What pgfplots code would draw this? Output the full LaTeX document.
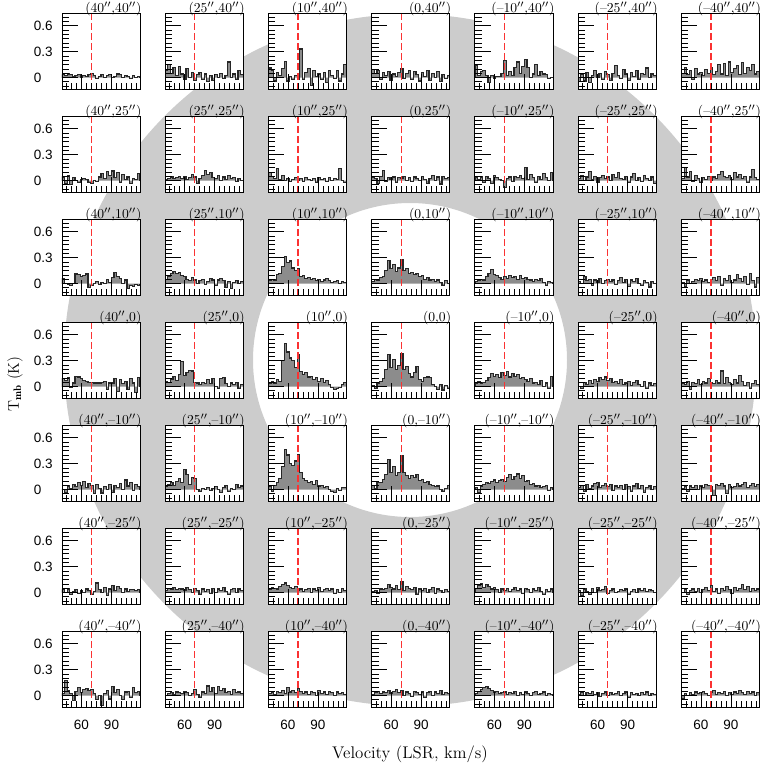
\documentclass[border=0pt]{standalone}
\usepackage{fontspec}
\usepackage{pgfplots}
\pgfplotsset{compat=1.18}
\newfontfamily\tickfont{Liberation Sans}
\definecolor{ring}{RGB}{204,204,204}
\definecolor{histfill}{RGB}{140,140,140}
\definecolor{vred}{RGB}{250,50,50}

\newcommand{\as}{$''$}
\pgfplotsset{
  panel/.style={
    scale only axis, width=19.5mm, height=19mm, anchor=north west,
    xmin=40.5, xmax=118.5, ymin=-0.14, ymax=0.74,
    xtick={60,90}, ytick={0,0.3,0.6},
    minor xtick={45,50,...,115},
    minor ytick={-0.1,-0.05,0.05,0.1,0.15,0.2,0.25,0.35,0.4,0.45,0.5,0.55,0.65,0.7},
    tick align=inside, tick pos=left,
    major tick length=3.9mm, minor tick length=1.7mm,
    tick style={black, line width=0.5pt},
    axis line style={black, line width=0.7pt},
    axis background/.style={fill=white},
    axis on top,
    xticklabels={}, yticklabels={},
    tick label style={font=\tickfont\fontsize{9.6}{11}\selectfont},
    yticklabel style={anchor=west, xshift=-7.1mm, inner sep=0pt},
    xticklabel style={anchor=north, yshift=-3mm, inner sep=0pt},
    every axis title/.style={at={(1,1)}, anchor=base east, yshift=1pt, xshift=0.4mm,
      inner sep=0pt, font=\fontsize{9.7}{11}\selectfont},
  },
  labx/.style={xticklabels={60,90}},
  laby/.style={yticklabels={0,0.3,0.6}},
  histo/.style={const plot, black!85, line width=0.8pt, fill=histfill},
  vline/.style={vred, line width=0.9pt, dash pattern=on 1.6mm off 0.9mm},
}

% #1 column, #2 row, #3 offset label, #4 extra options, #5 channel values (K)
\newcommand{\spec}[5]{%
  \begin{axis}[panel, at={({(62+103.25*#1)*0.25mm},{-(13.6+103*#2)*0.25mm})}, title={#3}, #4]
    \addplot[histo] table[row sep=\\, header=false, x expr={37.9+2.6*\coordindex}, y index=0] {0\\#5\\0\\};
    \addplot[vline] coordinates {(70,-0.14) (70,0.74)};
  \end{axis}}

\begin{document}
\begin{tikzpicture}
\path[use as bounding box] (0,0) rectangle (190.75mm,-191.25mm);

% background ring and axis titles
\begin{axis}[hide axis, scale only axis, width=190.75mm, height=191.25mm,
  at={(0,0)}, anchor=north west, xmin=0, xmax=763, ymin=0, ymax=765, clip=false]
  \fill[ring, even odd rule] (axis cs:410,405) circle[radius=346] (axis cs:410,405) circle[radius=157];
  \node[rotate=90, font=\fontsize{11}{13}\selectfont] at (axis cs:15,381) {T$_{\mathbf{mb}}$ (K)};
  \node[font=\fontsize{12}{14}\selectfont] at (axis cs:410,11) {Velocity (LSR, km/s)};
\end{axis}

% row 40''
\spec{0}{0}{(40\as,40\as)}{laby}{0.03\\0.02\\0.04\\0.03\\0.01\\0.02\\0.03\\0.00\\0.02\\0.01\\0.03\\0.05\\0.02\\-0.01\\0.01\\0.03\\0.00\\0.02\\0.03\\0.00\\0.01\\0.04\\0.03\\0.00\\0.02\\0.01\\-0.01\\0.02\\0.00\\0.01}
\spec{1}{0}{(25\as,40\as)}{}{0.08\\0.15\\0.05\\0.12\\0.02\\0.13\\0.04\\-0.02\\0.10\\0.00\\0.06\\-0.03\\0.03\\0.06\\-0.02\\0.04\\-0.05\\0.02\\-0.03\\0.03\\0.00\\0.05\\-0.01\\0.02\\0.18\\0.00\\0.04\\-0.02\\0.08\\0.03}
\spec{2}{0}{(10\as,40\as)}{}{0.11\\0.08\\-0.04\\0.06\\0.02\\0.10\\0.19\\-0.04\\0.01\\-0.02\\0.02\\-0.02\\0.33\\-0.02\\0.06\\0.10\\-0.09\\0.08\\0.01\\0.04\\-0.02\\0.06\\-0.06\\0.08\\0.02\\-0.01\\0.08\\-0.04\\0.04\\0.15}
\spec{3}{0}{(0,40\as)}{}{0.09\\0.05\\0.08\\-0.02\\0.06\\0.02\\0.07\\-0.03\\0.04\\0.01\\0.06\\0.10\\-0.01\\0.05\\0.08\\-0.02\\0.07\\0.03\\-0.04\\0.06\\0.01\\0.08\\-0.03\\0.05\\0.00\\0.07\\-0.05\\0.03\\-0.01\\0.02}
\spec{4}{0}{(–10\as,40\as)}{}{0.14\\0.02\\0.07\\0.08\\0.02\\-0.06\\0.02\\-0.01\\0.01\\0.01\\0.05\\0.20\\0.02\\0.07\\0.02\\0.12\\0.18\\0.05\\0.13\\0.21\\0.12\\0.00\\0.04\\0.15\\0.02\\0.07\\0.04\\0.03\\-0.01\\0.00}
\spec{5}{0}{(–25\as,40\as)}{}{-0.05\\0.03\\-0.04\\0.06\\-0.06\\0.02\\0.08\\0.00\\0.05\\-0.02\\0.07\\0.03\\-0.03\\0.05\\0.14\\0.02\\-0.01\\0.09\\0.04\\-0.03\\0.06\\0.01\\0.08\\-0.02\\0.05\\0.03\\0.11\\0.00\\0.04\\0.02}
\spec{6}{0}{(–40\as,40\as)}{}{0.05\\0.12\\0.03\\0.08\\-0.02\\0.10\\0.04\\0.06\\0.02\\0.09\\0.05\\0.12\\0.03\\0.07\\0.15\\0.04\\0.16\\0.02\\0.18\\0.06\\0.10\\0.14\\0.03\\0.17\\0.05\\0.12\\0.08\\0.15\\0.04\\0.07}

% row 25''
\spec{0}{1}{(40\as,25\as)}{laby}{0.04\\-0.03\\0.06\\-0.05\\0.03\\0.00\\-0.02\\0.01\\0.02\\0.01\\-0.02\\-0.03\\0.00\\-0.01\\0.04\\0.08\\0.02\\0.10\\0.06\\0.11\\0.03\\0.09\\-0.02\\0.07\\0.01\\0.04\\-0.03\\0.02\\0.01\\0.08}
\spec{1}{1}{(25\as,25\as)}{}{0.01\\0.02\\0.04\\0.02\\0.03\\0.05\\0.02\\0.04\\0.01\\0.03\\0.07\\0.04\\-0.03\\0.02\\0.06\\0.12\\0.07\\0.09\\0.03\\0.02\\0.06\\0.00\\0.04\\0.01\\0.06\\0.02\\0.03\\-0.01\\0.02\\0.00}
\spec{2}{1}{(10\as,25\as)}{}{0.09\\0.05\\0.02\\0.14\\0.01\\0.06\\0.00\\0.02\\-0.01\\0.01\\0.03\\0.00\\0.02\\-0.01\\0.03\\0.01\\0.00\\0.02\\-0.02\\0.03\\0.01\\0.02\\-0.01\\0.03\\0.00\\0.02\\0.01\\0.14\\0.00\\-0.02}
\spec{3}{1}{(0,25\as)}{}{0.04\\0.02\\-0.03\\0.05\\0.12\\-0.01\\0.03\\0.01\\0.04\\-0.02\\0.03\\0.02\\0.05\\0.00\\0.03\\-0.01\\0.04\\0.02\\0.00\\0.05\\0.01\\-0.03\\0.02\\0.06\\0.00\\0.04\\-0.04\\0.05\\0.02\\0.03}
\spec{4}{1}{(–10\as,25\as)}{}{0.03\\0.01\\0.04\\-0.02\\0.05\\0.02\\-0.03\\0.06\\0.03\\0.01\\0.00\\-0.08\\0.02\\0.04\\-0.01\\0.05\\0.03\\0.06\\0.02\\0.15\\0.01\\0.07\\0.03\\-0.02\\0.05\\0.01\\0.08\\0.03\\0.00\\0.09}
\spec{5}{1}{(–25\as,25\as)}{}{0.02\\0.06\\0.00\\0.04\\0.10\\0.01\\0.05\\-0.02\\0.03\\0.06\\0.02\\0.04\\0.00\\0.07\\0.03\\0.09\\0.02\\0.01\\0.05\\-0.02\\0.04\\0.08\\0.00\\0.03\\-0.01\\0.06\\0.02\\0.00\\0.04\\-0.03}
\spec{6}{1}{(–40\as,25\as)}{}{0.02\\0.15\\0.04\\0.10\\-0.01\\0.06\\0.02\\-0.02\\0.03\\0.01\\0.05\\0.00\\0.04\\0.02\\0.07\\0.10\\0.05\\0.03\\0.06\\0.01\\0.09\\0.04\\0.07\\0.02\\0.05\\-0.02\\0.04\\0.13\\0.03\\0.01}

% row 10''
\spec{0}{2}{(40\as,10\as)}{laby}{0.06\\0.00\\-0.01\\-0.02\\0.00\\0.11\\0.10\\0.08\\0.09\\0.11\\-0.05\\-0.02\\0.00\\0.02\\-0.01\\0.01\\0.00\\0.05\\0.01\\0.07\\0.13\\0.08\\0.06\\0.00\\0.04\\-0.06\\-0.02\\-0.03\\-0.01\\-0.02}
\spec{1}{2}{(25\as,10\as)}{}{0.05\\0.08\\0.12\\0.14\\0.12\\0.13\\0.09\\0.08\\0.05\\0.03\\0.07\\0.04\\0.00\\0.03\\0.05\\-0.01\\0.02\\0.06\\0.04\\-0.02\\0.04\\0.06\\0.03\\-0.05\\0.02\\-0.06\\0.01\\0.03\\0.00\\0.02}
\spec{2}{2}{(10\as,10\as)}{}{0.03\\0.05\\0.04\\0.10\\0.12\\0.20\\0.31\\0.24\\0.26\\0.18\\0.15\\0.17\\0.08\\0.09\\0.06\\0.07\\0.05\\0.06\\0.03\\0.05\\0.02\\0.04\\0.06\\0.03\\0.01\\0.02\\0.03\\0.00\\0.02\\0.01}
\spec{3}{2}{(0,10\as)}{}{0.02\\0.05\\0.03\\0.07\\0.08\\0.15\\0.27\\0.17\\0.22\\0.14\\0.18\\0.28\\0.15\\0.17\\0.12\\0.13\\0.10\\0.12\\0.08\\0.09\\0.05\\0.07\\0.04\\0.05\\0.02\\0.04\\0.01\\-0.02\\0.03\\0.00}
\spec{4}{2}{(–10\as,10\as)}{}{0.02\\0.03\\0.05\\0.04\\0.08\\0.12\\0.16\\0.10\\0.09\\0.07\\0.05\\0.08\\0.06\\0.09\\0.07\\0.08\\0.05\\0.09\\0.06\\0.07\\0.05\\0.04\\0.02\\0.05\\0.03\\0.06\\0.01\\-0.02\\0.02\\0.01}
\spec{5}{2}{(–25\as,10\as)}{}{0.02\\0.00\\0.08\\0.03\\0.05\\-0.02\\0.04\\0.01\\0.06\\0.00\\0.03\\0.05\\0.02\\0.04\\-0.01\\0.03\\0.07\\0.01\\0.05\\-0.03\\0.04\\0.02\\0.06\\0.00\\-0.02\\0.03\\0.01\\-0.04\\0.02\\0.00}
\spec{6}{2}{(–40\as,10\as)}{}{0.01\\-0.03\\0.04\\0.00\\0.02\\0.05\\0.03\\0.06\\0.02\\0.04\\0.01\\0.05\\0.07\\0.03\\0.08\\-0.02\\0.06\\0.03\\0.09\\0.01\\0.04\\0.10\\0.06\\0.02\\0.08\\-0.01\\0.12\\0.03\\-0.04\\0.07}

% row 0
\spec{0}{3}{(40\as,0)}{laby}{0.09\\0.07\\0.10\\-0.01\\0.04\\0.12\\0.11\\0.09\\0.07\\0.06\\0.05\\0.05\\0.04\\0.04\\0.04\\0.05\\0.06\\-0.03\\0.04\\0.04\\0.09\\-0.06\\0.08\\0.03\\0.06\\-0.03\\0.09\\0.04\\-0.07\\0.10}
\spec{1}{3}{(25\as,0)}{}{0.06\\0.05\\0.08\\0.12\\0.07\\0.14\\0.29\\0.13\\0.16\\0.19\\0.18\\0.05\\0.04\\0.02\\0.05\\0.03\\0.08\\0.03\\0.09\\0.00\\-0.02\\0.09\\0.10\\0.03\\0.00\\0.04\\0.02\\0.05\\-0.02\\0.02}
\spec{2}{3}{(10\as,0)}{}{0.03\\0.06\\0.04\\0.08\\0.06\\0.30\\0.50\\0.40\\0.33\\0.30\\0.22\\0.37\\0.17\\0.14\\0.16\\0.11\\0.12\\0.08\\0.10\\0.06\\0.09\\0.05\\0.07\\0.02\\-0.01\\-0.03\\-0.02\\-0.01\\0.02\\0.05}
\spec{3}{3}{(0,0)}{}{0.01\\-0.02\\0.03\\0.06\\0.09\\0.20\\0.37\\0.22\\0.31\\0.20\\0.24\\0.38\\0.20\\0.23\\0.15\\0.11\\0.16\\0.23\\0.08\\0.06\\0.10\\0.11\\0.10\\0.02\\0.00\\-0.03\\0.02\\-0.04\\0.01\\-0.02}
\spec{4}{3}{(–10\as,0)}{}{0.03\\0.06\\0.04\\0.05\\0.07\\0.10\\0.15\\0.12\\0.14\\0.10\\0.16\\0.13\\0.17\\0.11\\0.15\\0.12\\0.14\\0.09\\0.10\\0.08\\0.06\\0.09\\0.04\\0.05\\0.02\\0.07\\0.00\\0.04\\-0.02\\0.12}
\spec{5}{3}{(–25\as,0)}{}{0.00\\-0.02\\0.05\\0.02\\0.07\\0.03\\0.08\\0.06\\0.10\\0.08\\0.11\\0.07\\0.09\\0.05\\0.06\\0.03\\0.08\\0.02\\0.04\\0.06\\0.01\\0.05\\0.07\\0.02\\0.00\\0.06\\-0.02\\0.04\\0.01\\0.03}
\spec{6}{3}{(–40\as,0)}{}{0.04\\0.02\\0.06\\-0.03\\0.05\\0.03\\0.08\\0.02\\0.06\\0.04\\0.09\\0.05\\0.03\\0.07\\0.04\\0.18\\0.03\\0.10\\0.05\\0.02\\0.08\\0.04\\0.13\\0.06\\0.01\\0.05\\-0.02\\0.03\\0.07\\0.02}

% row -10''
\spec{0}{4}{(40\as,–10\as)}{laby}{0.00\\-0.03\\0.04\\0.01\\0.06\\0.03\\0.08\\0.05\\0.09\\0.02\\0.07\\0.05\\-0.05\\0.06\\0.01\\-0.04\\0.03\\0.00\\0.06\\-0.03\\0.05\\0.02\\0.07\\0.00\\0.11\\0.04\\0.08\\-0.01\\0.06\\0.03}
\spec{1}{4}{(25\as,–10\as)}{}{0.03\\0.06\\0.08\\0.05\\0.09\\0.13\\0.08\\0.23\\0.17\\0.06\\0.14\\0.13\\0.00\\-0.02\\0.01\\0.00\\0.02\\-0.01\\0.01\\0.03\\0.00\\-0.03\\0.02\\0.05\\-0.02\\0.01\\0.00\\0.06\\0.02\\0.04}
\spec{2}{4}{(10\as,–10\as)}{}{0.03\\-0.02\\0.05\\0.08\\0.13\\0.27\\0.46\\0.40\\0.30\\0.28\\0.33\\0.40\\0.20\\0.13\\0.10\\0.08\\0.09\\0.06\\0.10\\0.04\\0.05\\0.02\\0.03\\0.00\\-0.02\\-0.03\\0.01\\-0.01\\0.02\\0.02}
\spec{3}{4}{(0,–10\as)}{}{0.05\\0.01\\0.08\\0.08\\0.12\\0.17\\0.35\\0.20\\0.27\\0.16\\0.20\\0.39\\0.20\\0.16\\0.13\\0.16\\0.14\\0.17\\0.10\\0.12\\0.08\\0.09\\0.06\\0.05\\0.03\\0.04\\0.00\\-0.02\\0.01\\0.05}
\spec{4}{4}{(–10\as,–10\as)}{}{0.02\\-0.03\\0.04\\0.06\\0.08\\0.07\\0.09\\0.11\\0.08\\0.10\\0.12\\0.09\\0.14\\0.17\\0.12\\0.15\\0.18\\0.13\\0.16\\0.09\\0.10\\0.06\\0.07\\0.04\\0.05\\0.02\\0.03\\0.05\\-0.01\\0.02}
\spec{5}{4}{(–25\as,–10\as)}{}{0.02\\0.05\\-0.02\\0.06\\0.01\\0.04\\0.07\\0.08\\0.02\\0.05\\0.07\\0.03\\0.06\\-0.01\\0.04\\0.02\\0.05\\0.00\\0.06\\0.03\\-0.02\\0.04\\0.07\\0.01\\0.05\\-0.03\\0.02\\0.04\\0.00\\0.03}
\spec{6}{4}{(–40\as,–10\as)}{}{0.01\\0.03\\-0.02\\0.04\\0.02\\0.05\\0.00\\0.04\\0.02\\0.06\\0.05\\0.03\\-0.07\\0.06\\0.05\\0.07\\0.04\\-0.05\\0.06\\0.02\\0.03\\0.07\\0.04\\0.06\\0.08\\0.02\\0.05\\0.07\\0.03\\0.06}

% row -25''
\spec{0}{5}{(40\as,–25\as)}{laby}{0.03\\0.00\\0.04\\-0.02\\0.01\\0.03\\-0.01\\0.02\\0.00\\0.04\\0.02\\-0.02\\0.01\\0.11\\0.03\\0.00\\0.06\\-0.03\\0.04\\0.08\\0.02\\0.07\\0.05\\0.00\\0.04\\0.01\\0.03\\0.03\\0.02\\0.03}
\spec{1}{5}{(25\as,–25\as)}{}{0.02\\0.05\\0.04\\0.06\\0.03\\0.05\\0.04\\0.02\\0.06\\0.03\\0.00\\0.05\\0.02\\-0.02\\0.04\\0.01\\0.03\\-0.01\\0.05\\0.00\\0.04\\0.02\\0.06\\0.01\\-0.02\\0.03\\0.05\\0.00\\0.04\\0.02}
\spec{2}{5}{(10\as,–25\as)}{}{0.03\\0.06\\0.05\\0.04\\0.07\\0.09\\0.11\\0.08\\0.06\\0.05\\0.07\\0.02\\0.04\\0.01\\0.03\\0.05\\0.00\\0.04\\0.02\\0.06\\0.01\\0.03\\0.05\\0.02\\0.04\\-0.01\\0.03\\0.00\\0.05\\0.02}
\spec{3}{5}{(0,–25\as)}{}{0.01\\0.02\\-0.01\\0.04\\0.03\\0.05\\0.09\\0.06\\0.04\\0.08\\0.03\\0.13\\0.02\\0.07\\0.05\\0.03\\0.06\\-0.02\\0.04\\0.02\\0.05\\0.00\\0.03\\0.06\\-0.01\\0.04\\0.02\\0.00\\0.03\\0.01}
\spec{4}{5}{(–10\as,–25\as)}{}{0.05\\0.08\\0.10\\0.06\\0.09\\0.07\\0.04\\0.06\\0.03\\0.00\\0.04\\0.02\\0.05\\0.01\\0.03\\0.06\\0.02\\0.04\\-0.01\\0.05\\0.03\\0.00\\0.04\\0.02\\0.06\\0.01\\-0.02\\0.03\\0.01\\0.04}
\spec{5}{5}{(–25\as,–25\as)}{}{0.02\\-0.03\\0.04\\0.01\\-0.02\\0.05\\0.00\\0.06\\0.02\\0.03\\0.07\\-0.01\\0.02\\0.04\\0.00\\0.01\\0.03\\0.02\\0.04\\-0.02\\0.01\\0.03\\0.00\\0.04\\0.02\\0.05\\0.01\\0.03\\0.02\\0.00}
\spec{6}{5}{(–40\as,–25\as)}{}{0.00\\0.03\\-0.02\\0.02\\0.04\\0.01\\0.05\\0.00\\0.03\\0.06\\0.02\\0.08\\0.01\\0.04\\-0.01\\0.05\\0.02\\0.07\\0.03\\-0.01\\0.06\\0.02\\0.05\\0.09\\0.03\\0.07\\0.01\\0.05\\0.02\\0.04}

% row -40''
\spec{0}{6}{(40\as,–40\as)}{laby,labx}{0.02\\0.17\\0.06\\0.02\\-0.06\\0.05\\0.09\\0.03\\0.07\\0.08\\0.06\\0.07\\0.02\\-0.05\\0.00\\-0.12\\0.02\\0.06\\-0.04\\0.10\\0.03\\0.07\\0.00\\-0.05\\0.04\\0.05\\-0.02\\0.09\\0.03\\0.05}
\spec{1}{6}{(25\as,–40\as)}{labx}{0.00\\0.02\\0.03\\0.01\\0.04\\0.03\\0.02\\0.05\\0.03\\0.00\\0.02\\0.07\\0.01\\-0.02\\0.04\\0.02\\0.11\\0.05\\0.09\\0.02\\0.10\\0.06\\0.08\\0.03\\0.05\\0.01\\0.07\\0.03\\0.04\\0.02}
\spec{2}{6}{(10\as,–40\as)}{labx}{0.02\\0.04\\0.01\\0.05\\0.03\\0.06\\0.02\\0.09\\0.04\\0.06\\0.03\\0.08\\0.05\\0.02\\0.04\\0.01\\0.05\\0.03\\0.00\\0.06\\0.02\\0.04\\0.01\\0.05\\0.03\\0.00\\0.04\\0.02\\0.03\\0.01}
\spec{3}{6}{(0,–40\as)}{labx}{0.01\\0.03\\0.05\\0.02\\0.04\\0.03\\0.06\\0.02\\0.05\\0.07\\0.03\\0.06\\0.00\\0.04\\0.02\\-0.01\\0.05\\0.03\\0.01\\0.04\\-0.02\\0.03\\0.05\\0.00\\0.04\\0.02\\0.06\\0.01\\0.03\\0.02}
\spec{4}{6}{(–10\as,–40\as)}{labx}{0.02\\0.05\\0.07\\0.09\\0.10\\0.08\\0.06\\0.04\\0.05\\0.02\\0.03\\0.04\\0.01\\0.03\\0.02\\0.05\\0.00\\0.03\\0.01\\0.04\\0.02\\0.00\\0.03\\0.05\\0.01\\0.02\\0.04\\0.00\\0.02\\0.01}
\spec{5}{6}{(–25\as,–40\as)}{labx}{0.01\\0.04\\0.00\\0.03\\0.02\\0.05\\0.01\\0.03\\-0.01\\0.02\\0.04\\0.00\\0.03\\0.01\\0.02\\0.05\\0.00\\0.02\\0.04\\-0.02\\0.03\\0.01\\0.02\\0.00\\0.03\\0.01\\0.04\\0.00\\0.02\\0.01}
\spec{6}{6}{(–40\as,–40\as)}{labx}{-0.04\\0.02\\0.00\\0.03\\0.01\\0.04\\0.02\\0.03\\0.05\\0.02\\0.00\\0.04\\0.06\\0.01\\0.03\\0.02\\0.05\\0.00\\0.03\\0.01\\0.04\\0.02\\0.06\\0.03\\0.01\\0.05\\0.02\\0.04\\0.00\\0.03}
\end{tikzpicture}
\end{document}
